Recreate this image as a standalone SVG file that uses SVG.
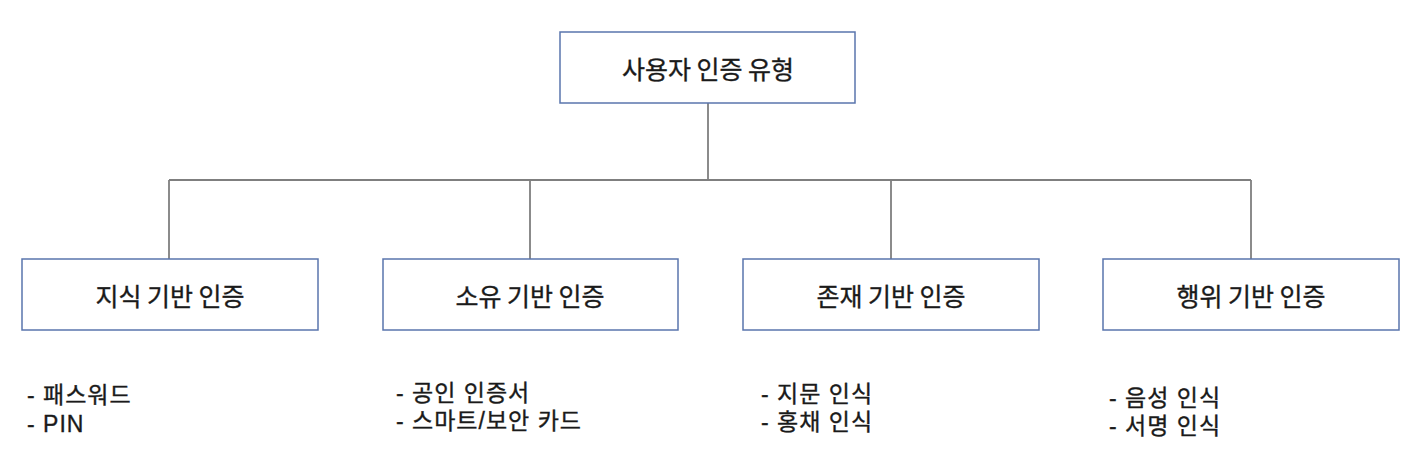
<svg xmlns="http://www.w3.org/2000/svg" width="1422" height="472" viewBox="0 0 1422 472">
<style>
.box{fill:#fff;stroke:#5a75ad;stroke-width:1.5}
.lbl{font-family:"Noto Sans CJK KR","Noto Sans",sans-serif;font-size:25px;fill:#1a1a1a;stroke:#1a1a1a;stroke-width:0.35;text-anchor:middle;dominant-baseline:central}
.lst{font-family:"Liberation Sans","Noto Sans CJK KR",sans-serif;font-size:23px;letter-spacing:1px;fill:#1a1a1a;stroke:#1a1a1a;stroke-width:0.35}
.con{fill:none;stroke:#7f7f7f;stroke-width:1.8}
</style>
<rect width="1422" height="472" fill="#fff"/>
<g id="connectors">
<path class="con" d="M708 103V180M169 180H1251M169 180V259M530 180V259M891 180V259M1251 180V259"/>
</g>
<g id="root">
<rect class="box" x="560" y="32" width="295" height="71"/>
<text class="lbl" x="708" y="67.5">사용자 인증 유형</text>
</g>
<g id="knowledge">
<rect class="box" x="22" y="259" width="296" height="71"/>
<text class="lbl" x="170" y="294.5">지식 기반 인증</text>
<text class="lst" x="27" y="403">- 패스워드<tspan x="27" dy="29">- PIN</tspan></text>
</g>
<g id="possession">
<rect class="box" x="383" y="259" width="295" height="71"/>
<text class="lbl" x="530" y="294.5">소유 기반 인증</text>
<text class="lst" x="396" y="401">- 공인 인증서<tspan x="396" dy="28">- 스마트/보안 카드</tspan></text>
</g>
<g id="inherence">
<rect class="box" x="743" y="259" width="296" height="71"/>
<text class="lbl" x="891" y="294.5">존재 기반 인증</text>
<text class="lst" x="761" y="402">- 지문 인식<tspan x="761" dy="28">- 홍채 인식</tspan></text>
</g>
<g id="behavior">
<rect class="box" x="1103" y="259" width="296" height="71"/>
<text class="lbl" x="1251" y="294.5">행위 기반 인증</text>
<text class="lst" x="1109" y="406">- 음성 인식<tspan x="1109" dy="28">- 서명 인식</tspan></text>
</g>
</svg>
